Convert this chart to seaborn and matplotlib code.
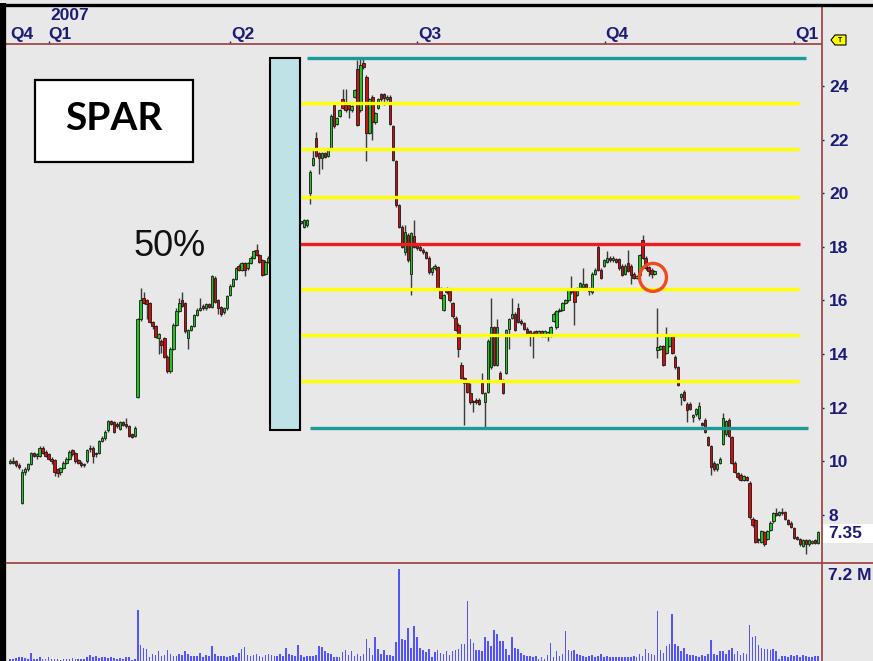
import numpy as np
import pandas as pd
import matplotlib
matplotlib.use('Agg')
import matplotlib.pyplot as plt
import seaborn as sns
from matplotlib.patches import Rectangle, Ellipse, Polygon
from matplotlib.lines import Line2D

# ---------------- data (daily OHLC, SPAR, Dec 2006 - Jan 2008) ----------------
open_ = [
    9.95, 10.0, 10.0, 9.85, 8.45, 9.6, 9.7, 9.9, 10.3, 10.2,
    10.2, 10.5, 10.35, 10.25, 10.1, 10.05, 9.7, 9.6, 9.75, 9.95,
    10.1, 10.4, 10.3, 10.05, 9.95, 9.85, 10.0, 10.45, 10.5, 10.3,
    10.3, 10.75, 10.85, 11.15, 11.5, 11.45, 11.4, 11.2, 11.45, 11.4,
    11.3, 11.0, 10.95, 12.4, 15.3, 16.1, 16.0, 15.9, 15.2, 15.05,
    14.6, 14.5, 14.6, 13.9, 13.35, 14.2, 15.1, 15.6, 16.0, 15.9,
    14.6, 14.9, 15.05, 15.45, 15.65, 15.8, 15.7, 15.85, 15.75, 16.85,
    16.0, 15.75, 15.55, 15.7, 16.2, 16.55, 16.8, 17.3, 17.15, 17.4,
    17.2, 17.4, 17.6, 17.9, 17.7, 17.5, 17.0, 17.45, 17.6, 17.5,
    17.8, 17.6, 17.9, 18.2, 18.0, 18.3, 18.6, 18.4, 18.9, 18.75,
    18.8, 20.0, 21.05, 22.05, 21.5, 21.3, 21.5, 21.4, 21.7, 23.3,
    22.6, 22.9, 23.5, 23.3, 23.3, 23.1, 23.6, 24.65, 23.1, 24.85,
    24.35, 22.25, 23.6, 22.65, 23.2, 23.7, 23.7, 23.5, 23.6, 22.5,
    21.2, 19.55, 18.75, 17.8, 18.45, 17.0, 18.4, 18.1, 18.0, 17.9,
    17.8, 17.6, 17.05, 17.2, 17.25, 16.45, 15.65, 16.4, 16.35, 15.9,
    15.35, 15.1, 13.6, 13.1, 12.9, 12.55, 12.2, 12.3, 12.3, 12.9,
    12.2, 12.6, 13.5, 15.0, 13.6, 13.3, 13.0, 13.3, 14.95, 15.35,
    15.5, 15.7, 15.25, 15.15, 14.95, 14.85, 14.7, 14.85, 14.75, 14.85,
    14.7, 14.75, 14.7, 15.25, 15.0, 15.6, 15.65, 15.9, 16.0, 16.45,
    16.4, 16.2, 16.45, 16.5, 16.6, 16.45, 16.3, 17.0, 18.0, 17.15,
    17.3, 17.45, 17.6, 17.5, 17.55, 17.55, 17.3, 17.0, 17.4, 17.3,
    17.0, 16.85, 16.95, 18.25, 17.6, 17.25, 17.15, 17.0, 14.15, 14.2,
    14.3, 14.05, 14.3, 14.7, 13.9, 13.5, 12.4, 12.6, 12.15, 12.15,
    11.65, 11.75, 11.6, 11.4, 11.55, 10.9, 10.55, 9.95, 9.7, 9.95,
    10.65, 11.0, 11.55, 10.9, 9.95, 9.55, 9.5, 9.3, 9.4, 9.2,
    7.85, 7.8, 7.05, 7.0, 7.35, 7.1, 7.45, 7.75, 8.05, 8.0,
    8.1, 8.1, 7.8, 7.7, 7.5, 7.15, 7.1, 6.85, 7.05, 6.9,
    6.95, 7.05, 6.95,
]
high = [
    10.1, 10.15, 10.05, 9.95, 9.7, 9.8, 9.95, 10.35, 10.35, 10.3,
    10.55, 10.55, 10.4, 10.3, 10.15, 10.1, 9.75, 9.8, 10.0, 10.15,
    10.4, 10.45, 10.35, 10.1, 10.0, 9.95, 10.45, 10.6, 10.55, 10.35,
    10.8, 10.95, 11.15, 11.55, 11.55, 11.5, 11.45, 11.5, 11.5, 11.6,
    11.35, 11.05, 11.3, 15.35, 16.45, 16.3, 16.05, 15.95, 15.25, 15.1,
    14.8, 14.55, 14.65, 13.95, 14.25, 15.15, 15.7, 16.1, 16.3, 15.95,
    14.95, 15.1, 15.5, 15.7, 16.1, 15.85, 15.9, 15.9, 16.95, 16.9,
    16.05, 15.8, 15.75, 16.2, 16.6, 16.85, 17.25, 17.35, 17.45, 17.45,
    17.45, 17.65, 17.9, 18.1, 17.75, 17.55, 17.5, 17.65, 17.7, 17.85,
    17.9, 17.95, 18.25, 18.3, 18.35, 18.65, 18.7, 18.75, 18.95, 19.05,
    19.05, 20.85, 21.6, 22.3, 21.55, 21.55, 21.55, 21.65, 22.95, 23.35,
    22.85, 23.15, 23.9, 23.9, 23.35, 23.3, 23.9, 24.97, 25.0, 25.0,
    24.4, 23.55, 23.65, 23.05, 23.55, 23.75, 23.75, 23.65, 23.65, 22.55,
    21.25, 19.6, 18.8, 18.8, 18.5, 18.55, 19.0, 18.15, 18.05, 17.95,
    17.85, 17.65, 17.25, 17.35, 17.3, 16.5, 16.25, 16.5, 16.4, 15.95,
    15.4, 15.15, 13.7, 13.15, 12.95, 12.9, 12.3, 12.35, 12.35, 13.3,
    12.6, 14.55, 16.1, 15.05, 15.3, 13.35, 13.05, 14.95, 15.35, 16.1,
    15.55, 15.9, 15.3, 15.2, 15.0, 14.9, 14.85, 14.9, 14.9, 14.9,
    14.9, 14.85, 15.05, 15.55, 15.65, 15.7, 15.95, 16.05, 16.45, 16.9,
    16.45, 16.5, 16.7, 17.2, 16.65, 16.5, 17.05, 17.2, 18.05, 17.2,
    17.55, 17.85, 17.65, 17.65, 17.6, 17.6, 17.35, 17.35, 17.9, 17.35,
    17.05, 16.95, 17.75, 18.45, 17.65, 17.3, 17.2, 17.15, 15.7, 14.35,
    14.35, 15.0, 14.75, 14.75, 13.95, 13.55, 12.55, 12.65, 12.2, 12.2,
    11.75, 12.0, 12.2, 11.45, 11.6, 10.95, 10.6, 10.0, 9.95, 10.15,
    11.8, 11.55, 11.6, 10.95, 10.0, 9.6, 9.55, 9.5, 9.45, 9.25,
    7.9, 7.85, 7.15, 7.45, 7.4, 7.45, 7.75, 8.1, 8.25, 8.15,
    8.25, 8.15, 7.85, 7.75, 7.55, 7.2, 7.15, 7.1, 7.1, 7.1,
    7.05, 7.1, 7.4,
]
low = [
    9.9, 9.9, 9.8, 9.7, 8.4, 9.5, 9.65, 9.85, 10.15, 10.1,
    10.15, 10.25, 10.15, 10.05, 9.9, 9.45, 9.4, 9.5, 9.7, 9.9,
    10.05, 10.2, 9.95, 9.9, 9.8, 9.8, 9.95, 10.35, 9.95, 10.15,
    10.25, 10.7, 10.8, 11.1, 11.35, 11.05, 11.25, 11.15, 11.3, 11.25,
    10.9, 10.85, 10.9, 12.35, 15.25, 15.85, 15.3, 15.15, 14.95, 14.6,
    14.0, 14.05, 13.85, 13.3, 13.3, 14.15, 15.05, 15.55, 15.75, 14.8,
    14.2, 14.85, 15.0, 15.4, 15.6, 15.65, 15.65, 15.7, 15.7, 15.9,
    15.5, 15.4, 15.5, 15.65, 16.15, 16.5, 16.75, 17.1, 17.1, 16.9,
    17.15, 17.35, 17.55, 17.65, 17.4, 16.9, 16.95, 17.4, 17.4, 17.45,
    17.55, 17.55, 17.85, 17.95, 17.95, 18.25, 18.35, 18.35, 18.85, 18.7,
    18.75, 19.6, 21.0, 21.35, 20.7, 20.9, 21.3, 21.35, 21.65, 22.45,
    22.55, 22.85, 23.15, 23.05, 22.8, 23.05, 23.55, 22.5, 23.05, 24.65,
    21.2, 22.2, 22.0, 22.6, 23.15, 23.45, 23.3, 23.45, 22.55, 21.2,
    19.5, 18.7, 17.95, 17.7, 17.45, 16.2, 17.95, 17.9, 17.85, 17.75,
    17.55, 17.0, 16.95, 17.15, 16.4, 16.05, 15.6, 16.25, 15.95, 15.35,
    14.85, 13.9, 13.05, 11.35, 12.55, 12.15, 11.85, 12.15, 12.1, 12.5,
    11.2, 12.55, 13.45, 13.55, 13.55, 12.95, 12.5, 13.25, 14.2, 15.3,
    14.85, 15.15, 15.1, 14.9, 14.75, 14.3, 13.85, 14.7, 14.7, 14.65,
    14.65, 14.5, 14.65, 15.2, 14.95, 15.55, 15.6, 15.85, 15.95, 16.25,
    15.1, 16.15, 16.4, 16.45, 16.4, 16.2, 16.25, 16.95, 17.1, 16.8,
    17.25, 17.4, 17.45, 17.45, 17.4, 17.15, 16.9, 16.95, 17.05, 16.6,
    16.8, 16.8, 16.9, 17.55, 17.15, 16.9, 16.85, 16.95, 13.85, 14.15,
    13.55, 14.0, 14.25, 14.0, 13.45, 12.8, 12.1, 12.25, 11.45, 11.9,
    11.45, 11.7, 11.55, 11.3, 11.05, 10.55, 9.5, 9.65, 9.65, 9.9,
    10.6, 10.95, 10.9, 9.9, 9.55, 9.35, 9.25, 9.25, 9.25, 7.85,
    7.55, 6.95, 6.95, 6.95, 6.85, 7.05, 7.4, 7.7, 7.95, 7.95,
    8.0, 7.8, 7.6, 7.5, 7.1, 7.05, 6.85, 6.8, 6.55, 6.85,
    6.9, 6.9, 6.9,
]
close = [
    10.0, 9.95, 9.85, 9.8, 9.6, 9.7, 9.9, 10.3, 10.2, 10.25,
    10.5, 10.3, 10.2, 10.1, 10.0, 9.6, 9.55, 9.75, 9.95, 10.1,
    10.35, 10.25, 10.0, 9.95, 9.85, 9.9, 10.4, 10.45, 10.2, 10.25,
    10.75, 10.85, 11.1, 11.5, 11.4, 11.1, 11.3, 11.45, 11.35, 11.3,
    10.95, 10.9, 11.25, 15.3, 16.0, 15.9, 15.85, 15.2, 15.05, 14.65,
    14.75, 14.35, 13.9, 13.35, 14.2, 15.1, 15.6, 15.9, 15.8, 14.85,
    14.9, 15.05, 15.45, 15.65, 15.7, 15.7, 15.85, 15.75, 16.9, 15.95,
    15.7, 15.5, 15.7, 16.15, 16.55, 16.8, 17.2, 17.15, 17.4, 17.15,
    17.4, 17.6, 17.85, 17.7, 17.45, 16.95, 17.45, 17.6, 17.5, 17.8,
    17.6, 17.9, 18.2, 18.0, 18.3, 18.6, 18.4, 18.7, 18.9, 19.0,
    19.0, 20.8, 21.3, 21.4, 21.3, 21.5, 21.35, 21.6, 22.9, 22.5,
    22.8, 23.1, 23.2, 23.1, 23.15, 23.25, 23.85, 22.55, 24.8, 24.7,
    22.25, 23.5, 22.65, 23.0, 23.5, 23.5, 23.55, 23.6, 22.6, 21.25,
    19.55, 18.75, 18.0, 18.55, 17.5, 18.5, 18.0, 17.95, 17.9, 17.8,
    17.6, 17.05, 17.2, 17.3, 16.45, 16.1, 16.2, 16.3, 16.0, 15.4,
    14.9, 14.2, 13.1, 12.9, 12.6, 12.2, 12.25, 12.2, 12.15, 12.55,
    12.55, 14.5, 15.0, 13.6, 15.0, 13.0, 12.55, 14.9, 15.3, 15.5,
    14.9, 15.2, 15.15, 14.95, 14.8, 14.75, 14.8, 14.75, 14.85, 14.7,
    14.85, 14.8, 15.0, 15.5, 15.6, 15.65, 15.9, 16.0, 16.4, 16.3,
    15.95, 16.45, 16.65, 16.6, 16.45, 16.35, 17.0, 17.15, 17.15, 16.85,
    17.5, 17.6, 17.5, 17.6, 17.45, 17.2, 16.95, 17.3, 17.1, 16.95,
    16.85, 16.9, 17.7, 17.6, 17.2, 17.1, 17.0, 17.1, 14.25, 14.3,
    13.6, 14.7, 14.7, 14.05, 13.5, 12.85, 12.5, 12.3, 11.9, 11.95,
    11.7, 11.95, 12.05, 11.35, 11.1, 10.6, 9.8, 9.7, 9.9, 10.1,
    11.6, 11.5, 10.95, 9.95, 9.6, 9.4, 9.3, 9.45, 9.3, 7.9,
    7.6, 7.0, 7.1, 7.4, 6.9, 7.4, 7.7, 8.05, 8.0, 8.1,
    8.05, 7.85, 7.65, 7.55, 7.15, 7.1, 6.9, 7.05, 6.9, 7.05,
    7.0, 6.95, 7.35,
]
volume_m = [
    0.2, 0.2, 0.25, 0.3, 0.3, 0.25, 0.2, 0.65, 0.2, 0.2,
    0.3, 0.2, 0.2, 0.3, 0.15, 0.15, 0.15, 0.1, 0.15, 0.2,
    0.2, 0.25, 0.2, 0.2, 0.2, 0.2, 0.35, 0.5, 0.3, 0.45,
    0.25, 0.3, 0.3, 0.25, 0.3, 0.25, 0.15, 0.25, 0.2, 0.3,
    0.3, 0.1, 0.15, 4.2, 1.3, 1.1, 1.0, 0.3, 0.6, 0.5,
    0.8, 0.4, 0.5, 0.9, 0.6, 0.4, 0.4, 0.6, 0.5, 0.8,
    0.6, 0.4, 0.4, 0.4, 0.7, 0.3, 0.5, 0.4, 1.25, 0.6,
    0.45, 0.4, 0.4, 0.3, 0.4, 0.5, 0.3, 0.65, 1.0, 1.15,
    0.5, 0.4, 0.5, 0.6, 0.4, 0.3, 0.5, 0.6, 0.5, 0.4,
    0.4, 0.6, 0.4, 1.1, 0.6, 0.5, 0.4, 1.3, 0.5, 0.3,
    0.4, 0.45, 0.4, 0.5, 1.2, 1.15, 0.8, 0.7, 0.6, 0.3,
    0.3, 0.3, 0.75, 0.95, 0.5, 0.8, 0.4, 0.6, 0.4, 0.6,
    1.8, 1.1, 0.5, 2.0, 1.0, 0.6, 0.9, 0.5, 0.5, 0.4,
    1.55, 7.6, 1.85, 1.7, 2.7, 1.1, 2.9, 1.95, 1.1, 0.9,
    0.75, 1.0, 0.3, 0.75, 0.9, 0.7, 0.6, 0.8, 0.5, 0.8,
    0.9, 1.0, 1.4, 1.4, 5.0, 1.8, 1.5, 0.9, 0.9, 0.8,
    2.0, 1.65, 1.25, 2.6, 2.2, 1.65, 1.65, 1.0, 0.5, 2.0,
    1.1, 1.0, 0.7, 0.5, 0.4, 0.4, 0.3, 0.4, 0.2, 0.3,
    0.2, 0.5, 1.5, 0.3, 0.8, 0.4, 0.6, 2.5, 0.9, 0.8,
    0.9, 0.6, 0.5, 0.4, 0.3, 0.4, 0.5, 0.3, 0.4, 0.6,
    0.3, 0.4, 0.3, 0.3, 0.3, 0.35, 0.3, 0.3, 0.3, 0.3,
    0.4, 0.3, 0.6, 0.4, 1.0, 0.7, 0.6, 0.5, 4.1, 0.9,
    0.7, 1.2, 1.4, 3.9, 1.4, 1.2, 0.8, 1.1, 0.6, 0.5,
    0.5, 0.4, 0.3, 0.5, 0.4, 0.6, 1.7, 0.6, 0.5, 0.8,
    0.8, 0.6, 0.9, 1.1, 0.6, 0.8, 0.5, 0.7, 0.6, 3.0,
    1.95, 2.1, 1.3, 1.1, 1.0, 1.0, 0.9, 1.0, 0.8, 0.2,
    0.4, 0.4, 0.3, 0.5, 0.4, 0.5, 0.3, 0.5, 0.4, 0.3,
    0.3, 0.4, 0.4,
]

# Gann eighths between swing low and swing high
swing_high = 25.04
swing_low = 11.24
yellow_levels = [23.37, 21.65, 19.86, 16.43, 14.71, 13.0]
red_level = 18.1
price_ticks = [8, 10, 12, 14, 16, 18, 20, 22, 24]
quarter_labels = ['Q4', 'Q1', 'Q2', 'Q3', 'Q4', 'Q1']
year_label = '2007'
last_price = '7.35'
volume_label = '7.2 M'

# ---------------- layout helpers ----------------
W, H = 873, 661
SP = 2.97      # px per trading day
X0 = 10        # px of first candle


def fx(px):
    return px / W


def fy(py):
    return 1 - py / H


def xi(px):
    return (px - X0) / SP


sns.set_theme(style='white')
plt.rcParams['font.family'] = ['Liberation Sans', 'DejaVu Sans']

bg = '#e8e8e8'
navy = '#1c1c78'
axis_red = '#a04848'

fig = plt.figure(figsize=(W / 100, H / 100), dpi=100)
fig.patch.set_facecolor(bg)

ax = fig.add_axes([fx(6), fy(563), fx(822) - fx(6), fy(44) - fy(563)])
axv = fig.add_axes([fx(6), 0, fx(822) - fx(6), fy(563)])
for a in (ax, axv):
    a.set_facecolor(bg)
    for s in a.spines.values():
        s.set_visible(False)

n = min(len(open_), len(high), len(low), len(close), len(volume_m))
o = np.array(open_[:n]); h = np.array(high[:n]); l = np.array(low[:n]); c = np.array(close[:n])
idx = np.arange(n)
up = c >= o
colors = np.where(up, '#1fc41f', '#cc1010')
body_bottom = np.minimum(o, c)
body_h = np.maximum(np.abs(c - o), 0.06)

ax.vlines(idx, l, h, color='#3a3a3a', lw=1.0, zorder=2)
ax.bar(idx, body_h, bottom=body_bottom, width=0.82, color=colors,
       edgecolor='#1a1a1a', linewidth=0.6, zorder=3)

# Gann / Fibonacci style levels
ax.hlines(yellow_levels, xi(275), xi(799), colors='#ffff00', lw=2.4, zorder=4)
ax.hlines([red_level], xi(275), xi(800), colors='#ee1c1c', lw=2.4, zorder=4)
ax.hlines([swing_high], xi(307), xi(806), colors='#1c9a98', lw=2.4, zorder=4)
ax.hlines([swing_low], xi(310), xi(808), colors='#1c9a98', lw=2.4, zorder=4)

# shaded rectangle
ax.add_patch(Rectangle((xi(270), 11.16), xi(300) - xi(270), 25.04 - 11.16,
                       facecolor='#bfe2e6', edgecolor='black', lw=1.5, zorder=5))
# circle
ax.add_patch(Ellipse((xi(653), 16.86), width=27 / SP, height=28 / 26.8,
                     facecolor='none', edgecolor='#f24a1c', lw=2.4, zorder=6))

ax.set_xlim(xi(6), xi(822))
ax.set_ylim(6.2, 25.57)
ax.yaxis.tick_right()
ax.set_yticks(price_ticks)
ax.set_yticklabels([str(t) for t in price_ticks], fontsize=12.5,
                   fontweight='bold', color=navy)
ax.tick_params(axis='y', length=1.5, width=1, color=navy, pad=3.5, right=True)
ax.xaxis.tick_top()
ax.set_xticks([xi(49), xi(230), xi(417), xi(605), xi(794)])
ax.set_xticklabels([])
ax.tick_params(axis='x', length=2, width=1, color=navy, top=True, bottom=False)
ax.grid(False)

# volume panel
vdf = pd.DataFrame({'i': idx, 'v': np.array(volume_m[:n])})
sns.barplot(data=vdf, x='i', y='v', native_scale=True, color='#5454ff',
            saturation=1, width=0.55, errorbar=None, linewidth=0, ax=axv)
axv.set_xlim(xi(6), xi(822))
axv.set_ylim(0, 8.1)
axv.set_xticks([]); axv.set_yticks([])
axv.set_xlabel(''); axv.set_ylabel('')
axv.grid(False)


def fline(xs, ys, color, lw):
    fig.add_artist(Line2D([fx(x) for x in xs], [fy(y) for y in ys],
                          color=color, lw=lw, solid_capstyle='butt'))


# frame lines
fline([6, 822], [44, 44], axis_red, 1.3)
fline([6, 873], [563, 563], axis_red, 1.3)
fline([822, 822], [5, 661], axis_red, 1.3)
fline([0, 873], [4.5, 4.5], 'black', 2.4)
fline([3, 3], [3, 661], 'black', 4.5)

# quarter labels
q_px = [10, 48, 231, 418, 605, 795]
for lab, px in zip(quarter_labels, q_px):
    fig.text(fx(px), fy(35), lab, ha='left', va='center', fontsize=12.5,
             fontweight='bold', color=navy)
fig.text(fx(50), fy(15), year_label, ha='left', va='center', fontsize=12.5,
         fontweight='bold', color=navy)

# last price box
fig.add_artist(Rectangle((fx(823), fy(543)), fx(873) - fx(823), fy(524) - fy(543),
                         transform=fig.transFigure, facecolor='white', edgecolor='none'))
fig.text(fx(828), fy(533.5), last_price, ha='left', va='center', fontsize=12.5,
         fontweight='bold', color=navy)
fig.text(fx(828), fy(575), volume_label, ha='left', va='center', fontsize=12.5,
         fontweight='bold', color=navy)

# yellow "T" tag
tag = [(831, 40), (835, 35), (846, 35), (846, 45), (835, 45)]
fig.add_artist(Polygon([(fx(x), fy(y)) for x, y in tag], closed=True,
                       transform=fig.transFigure, facecolor='#ffff00',
                       edgecolor='black', lw=0.8))
fig.text(fx(840.5), fy(40), 'T', ha='center', va='center', fontsize=5,
         fontweight='bold', color='black')

# SPAR box and 50% annotation
fig.add_artist(Rectangle((fx(35), fy(162)), fx(193) - fx(35), fy(80) - fy(162),
                         transform=fig.transFigure, facecolor='white',
                         edgecolor='black', lw=1.6))
fig.text(fx(114), fy(119), 'SPAR', ha='center', va='center', fontsize=28,
         fontweight='bold', color='black', family=['Lato', 'DejaVu Sans'])
fig.text(fx(170), fy(246), '50%', ha='center', va='center', fontsize=26,
         color='#111111', family=['Liberation Sans', 'DejaVu Sans'])

fig.savefig('out.png', dpi=100, facecolor=fig.get_facecolor())
